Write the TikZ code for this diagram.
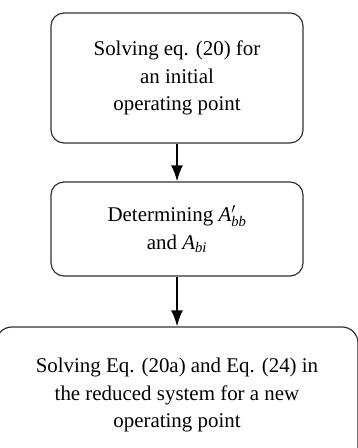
\documentclass[tikz,border=0pt]{standalone}
\usepackage{amsmath}
\usepackage{fontspec}
\setmainfont{Liberation Serif}
\usetikzlibrary{arrows.meta}
\tikzset{stepbox/.style={draw=black!80, line width=1.2bp, rounded corners=13bp, align=center,
    inner sep=0pt, font=\fontsize{21}{27.5}\selectfont}}
\begin{document}
\begin{tikzpicture}[>={Latex[length=16bp,width=12bp]}, x=1bp, y=-1bp, line join=round]
    \useasboundingbox (0,0) rectangle (357,448);
    \node[stepbox, minimum width=252bp, minimum height=130bp] (init) at (177,78)
        {Solving eq. (20) for\\ an initial\\ operating point};
    \node[stepbox, minimum width=252bp, minimum height=94bp] (det) at (177,229)
        {Determining $\textit{A}'_{\textit{bb}}$\\ and $\textit{A}_{\textit{bi}}$};
    \node[stepbox, rounded corners=16bp, minimum width=362bp, minimum height=136bp] (red) at (177,395)
        {Solving Eq. (20a) and Eq. (24) in\\ the reduced system for a new\\ operating point};
    \draw[->, line width=2bp] (init) -- (det);
    \draw[->, line width=2bp] (det) -- (red);
\end{tikzpicture}
\end{document}
